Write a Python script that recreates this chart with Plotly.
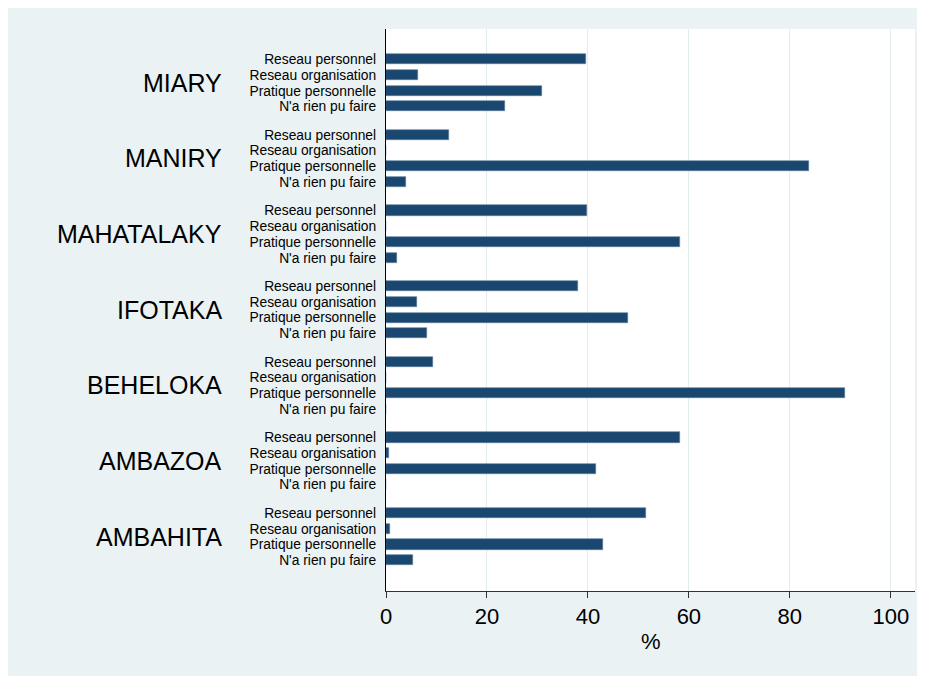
import plotly.graph_objects as go

groups = ["MIARY", "MANIRY", "MAHATALAKY", "IFOTAKA", "BEHELOKA", "AMBAZOA", "AMBAHITA"]
items = ["Reseau personnel", "Reseau organisation", "Pratique personnelle", "N'a rien pu faire"]

reseau_personnel = [39.6, 12.5, 39.8, 38.0, 9.3, 58.2, 51.6]
reseau_organisation = [6.3, 0.0, 0.0, 6.1, 0.0, 0.6, 0.7]
pratique_personnelle = [31.0, 83.8, 58.3, 48.0, 91.0, 41.6, 42.9]
na_rien_pu_faire = [23.6, 3.9, 2.1, 8.1, 0.0, 0.0, 5.3]

x_ticks = [0, 20, 40, 60, 80, 100]
x_title = "%"

series = [reseau_personnel, reseau_organisation, pratique_personnelle, na_rien_pu_faire]

# layout constants (category slot positions)
GROUP_STEP = 4.82
BAR_W = 0.65
BAR_COLOR = "#1a476f"
BG = "#eaf2f3"
FONT = "Liberation Sans, Arial, Helvetica, sans-serif"

ypos, xs, labels = [], [], []
for g, grp in enumerate(groups):
    for j, it in enumerate(items):
        ypos.append(g * GROUP_STEP + j)
        xs.append(series[j][g])
        labels.append(it)

fig = go.Figure()
fig.add_trace(go.Bar(
    x=xs, y=ypos, orientation="h", width=BAR_W,
    marker=dict(color=BAR_COLOR, line=dict(width=0.6, color="#5d7e9c")),
    hoverinfo="x+text", text=labels, textposition="none",
    showlegend=False,
))

last = (len(groups) - 1) * GROUP_STEP + len(items) - 1
ann = []
for g, grp in enumerate(groups):
    ann.append(dict(
        text=grp, x=-0.306, xref="paper", xanchor="right",
        y=g * GROUP_STEP + 1.5, yref="y", yanchor="middle",
        showarrow=False, font=dict(size=25, color="#000000", family=FONT),
    ))
ann.append(dict(text=x_title, x=0.5, xref="paper", xanchor="center",
                y=-0.0907, yref="paper", yanchor="middle", showarrow=False,
                font=dict(size=22, color="#000000", family=FONT)))

fig.update_layout(
    width=917, height=668,
    margin=dict(l=378, r=10, t=21, b=85),
    paper_bgcolor=BG,
    plot_bgcolor="#ffffff",
    font=dict(family=FONT, color="#000000"),
    annotations=ann,
    bargap=0,
    xaxis=dict(
        range=[0, 104.8], tickvals=x_ticks, ticktext=[str(t) for t in x_ticks],
        showgrid=True, gridcolor="#e3ecef", gridwidth=1.2,
        zeroline=False, showline=True, linecolor="#333333", linewidth=1,
        ticks="outside", ticklen=6, tickcolor="#333333",
        tickfont=dict(size=22, color="#000000", family=FONT),
    ),
    yaxis=dict(
        range=[last + 1.96, -1.93], tickvals=ypos, ticktext=labels,
        showgrid=False, zeroline=False, showline=True, linecolor="#000000",
        linewidth=1.2, ticks="", ticklabelstandoff=6,
        tickfont=dict(size=13.8, color="#000000", family=FONT),
    ),
)

fig.write_html("out.html")
